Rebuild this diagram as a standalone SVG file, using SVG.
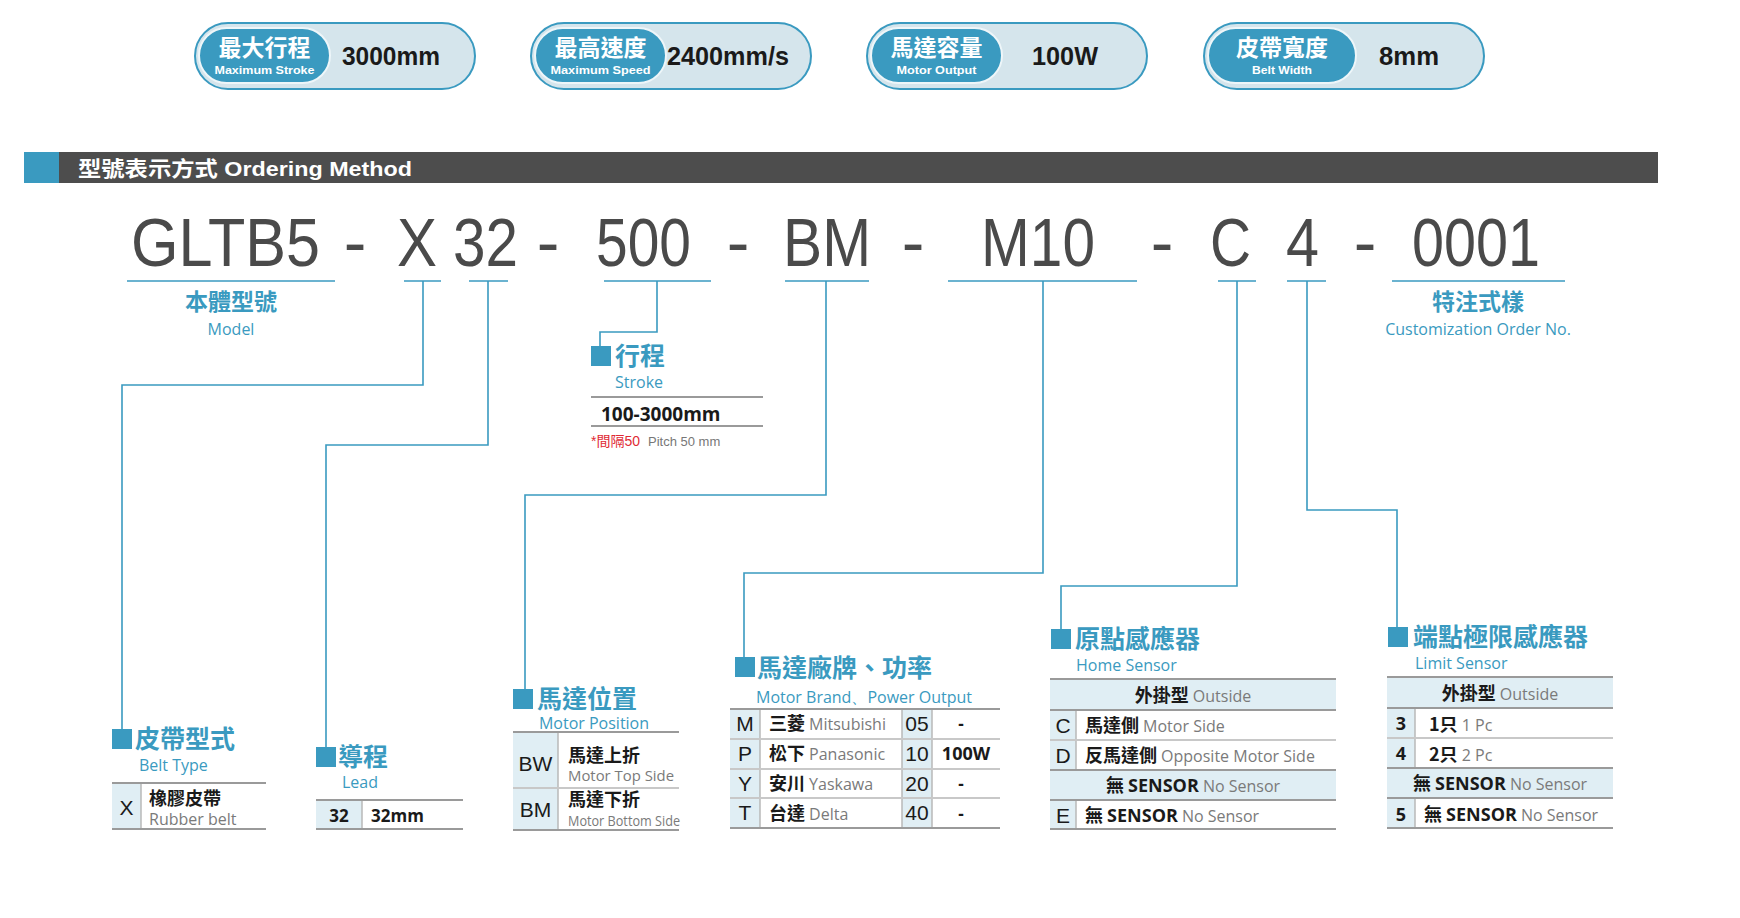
<svg xmlns="http://www.w3.org/2000/svg" width="1740" height="918" viewBox="0 0 1740 918">
<style>
.bg{fill:#ffffff}
.pill{fill:#d5e5ec;stroke:#3a9ac0;stroke-width:2}
.pin{fill:#3a9ac0;stroke:#eef6f9;stroke-width:2}
.pcj{font-family:"Noto Sans CJK TC","Noto Sans CJK SC",sans-serif;font-weight:700;font-size:23px;fill:#fff;text-anchor:middle}
.pen{font-family:"Liberation Sans",Arial,sans-serif;font-weight:700;font-size:11px;fill:#fff;text-anchor:middle}
.pval{font-family:"Liberation Sans",Arial,sans-serif;font-weight:700;font-size:25px;fill:#1a1a1a;text-anchor:middle}
.code{font-family:"Liberation Sans",Arial,sans-serif;font-size:68px;fill:#4a4a4a;text-anchor:middle}
.ul{stroke:#3a9ac0;stroke-width:1.6;fill:none}
.con{stroke:#3a9ac0;stroke-width:1.6;fill:none}
.sq{fill:#3a9ac0}
.ttl{font-family:"Noto Sans CJK TC","Noto Sans CJK SC",sans-serif;font-weight:700;fill:#3a9ac0}
.sub{font-family:"Open Sans","Noto Sans",sans-serif;font-size:16px;fill:#3a9ac0}
.cell{fill:#e0eef4}
.tl{stroke:#9a9a9a;stroke-width:2;fill:none}
.tm{stroke:#c8c8c8;stroke-width:2;fill:none}
.vl{stroke:#b8b8b8;stroke-width:1.5;fill:none}
.let{font-family:"Liberation Sans",Arial,sans-serif;font-size:21px;fill:#1a1a1a;text-anchor:middle}
.cj{font-family:"Noto Sans CJK TC","Noto Sans CJK SC",sans-serif;font-weight:700;font-size:18px;fill:#1a1a1a}
.en{font-family:"Open Sans","Noto Sans",sans-serif;font-weight:400;fill:#7a7a7a}
.bk{font-family:"Open Sans","Noto Sans",sans-serif;font-weight:700;fill:#1a1a1a}
.num{font-family:"Liberation Sans",Arial,sans-serif;font-size:21px;fill:#1a1a1a;text-anchor:middle}
</style>
<rect class="bg" x="0" y="0" width="1740" height="918"/>

<!-- spec pills -->
<g id="pill-stroke">
<rect class="pill" x="195" y="23" width="280" height="66" rx="33"/>
<rect class="pin" x="199" y="28" width="131" height="55" rx="27.5"/>
<text class="pcj" x="264.5" y="56">最大行程</text>
<text class="pen" x="264.5" y="74" textLength="100" lengthAdjust="spacingAndGlyphs">Maximum Stroke</text>
<text class="pval" x="391" y="65" textLength="98" lengthAdjust="spacingAndGlyphs">3000mm</text>
</g>
<g id="pill-speed">
<rect class="pill" x="531" y="23" width="280" height="66" rx="33"/>
<rect class="pin" x="535" y="28" width="131" height="55" rx="27.5"/>
<text class="pcj" x="600.5" y="56">最高速度</text>
<text class="pen" x="600.5" y="74" textLength="100" lengthAdjust="spacingAndGlyphs">Maximum Speed</text>
<text class="pval" x="728" y="65" textLength="122" lengthAdjust="spacingAndGlyphs">2400mm/s</text>
</g>
<g id="pill-output">
<rect class="pill" x="867" y="23" width="280" height="66" rx="33"/>
<rect class="pin" x="871" y="28" width="131" height="55" rx="27.5"/>
<text class="pcj" x="936.5" y="56">馬達容量</text>
<text class="pen" x="936.5" y="74" textLength="80" lengthAdjust="spacingAndGlyphs">Motor Output</text>
<text class="pval" x="1065" y="65" textLength="66" lengthAdjust="spacingAndGlyphs">100W</text>
</g>
<g id="pill-belt">
<rect class="pill" x="1204" y="23" width="280" height="66" rx="33"/>
<rect class="pin" x="1208" y="28" width="148" height="55" rx="27.5"/>
<text class="pcj" x="1282" y="56">皮帶寬度</text>
<text class="pen" x="1282" y="74" textLength="60" lengthAdjust="spacingAndGlyphs">Belt Width</text>
<text class="pval" x="1409" y="65" textLength="60" lengthAdjust="spacingAndGlyphs">8mm</text>
</g>

<!-- header bar -->
<g id="header">
<rect x="24" y="152" width="1634" height="31" fill="#4d4d4d"/>
<rect x="24" y="152" width="35" height="31" fill="#3a9ac0"/>
<text x="78" y="176" font-family="'Liberation Sans','Noto Sans CJK TC',sans-serif" font-weight="700" font-size="21" fill="#ffffff" textLength="334" lengthAdjust="spacingAndGlyphs">型號表示方式 Ordering Method</text>
</g>

<!-- code -->
<g id="code">
<text class="code" x="225.5" y="266" textLength="189" lengthAdjust="spacingAndGlyphs">GLTB5</text>
<text class="code" x="355" y="266">-</text>
<text class="code" x="417" y="266" textLength="40" lengthAdjust="spacingAndGlyphs">X</text>
<text class="code" x="485.5" y="266" textLength="65" lengthAdjust="spacingAndGlyphs">32</text>
<text class="code" x="548" y="266">-</text>
<text class="code" x="643.5" y="266" textLength="95" lengthAdjust="spacingAndGlyphs">500</text>
<text class="code" x="738" y="266">-</text>
<text class="code" x="827" y="266" textLength="88" lengthAdjust="spacingAndGlyphs">BM</text>
<text class="code" x="913" y="266">-</text>
<text class="code" x="1038" y="266" textLength="114" lengthAdjust="spacingAndGlyphs">M10</text>
<text class="code" x="1162" y="266">-</text>
<text class="code" x="1230.5" y="266" textLength="41" lengthAdjust="spacingAndGlyphs">C</text>
<text class="code" x="1302.5" y="266" textLength="33" lengthAdjust="spacingAndGlyphs">4</text>
<text class="code" x="1365" y="266">-</text>
<text class="code" x="1476" y="266" textLength="128" lengthAdjust="spacingAndGlyphs">0001</text>
</g>

<!-- underlines -->
<g id="underlines">
<line class="ul" x1="127" y1="281" x2="335" y2="281"/>
<line class="ul" x1="404" y1="281" x2="441" y2="281"/>
<line class="ul" x1="469" y1="281" x2="508" y2="281"/>
<line class="ul" x1="604" y1="281" x2="711" y2="281"/>
<line class="ul" x1="785" y1="281" x2="869" y2="281"/>
<line class="ul" x1="948" y1="281" x2="1137" y2="281"/>
<line class="ul" x1="1218" y1="281" x2="1256" y2="281"/>
<line class="ul" x1="1287" y1="281" x2="1326" y2="281"/>
<line class="ul" x1="1392" y1="281" x2="1565" y2="281"/>
</g>

<!-- connectors -->
<g id="connectors">
<polyline class="con" points="423,281 423,385 122,385 122,730"/>
<polyline class="con" points="488,281 488,445 326,445 326,748"/>
<polyline class="con" points="657,281 657,332 600,332 600,347"/>
<polyline class="con" points="826,281 826,495 525,495 525,690"/>
<polyline class="con" points="1043,281 1043,573 744,573 744,658"/>
<polyline class="con" points="1237,281 1237,586 1061,586 1061,630"/>
<polyline class="con" points="1307,281 1307,510 1397,510 1397,628"/>
</g>

<!-- Model -->
<g id="node-model">
<text class="ttl" x="231" y="310" text-anchor="middle" font-size="23">本體型號</text>
<text class="sub" x="231" y="335" text-anchor="middle">Model</text>
</g>

<!-- Customization -->
<g id="node-custom">
<text class="ttl" x="1478" y="310" text-anchor="middle" font-size="23">特注式樣</text>
<text class="sub" x="1478" y="335" text-anchor="middle">Customization Order No.</text>
</g>

<!-- Stroke -->
<g id="node-stroke">
<rect class="sq" x="591" y="346" width="20" height="20"/>
<text class="ttl" x="615" y="365" font-size="25">行程</text>
<text class="sub" x="639" y="388" text-anchor="middle">Stroke</text>
<line class="tl" x1="591" y1="397" x2="763" y2="397"/>
<text class="bk" x="601" y="421" font-size="19">100-3000mm</text>
<line class="tl" x1="591" y1="426" x2="763" y2="426"/>
<text x="591" y="446" font-family="'Liberation Sans','Noto Sans CJK TC',sans-serif" font-size="14" fill="#e02a35">*間隔50</text>
<text x="648" y="446" font-family="'Liberation Sans',sans-serif" font-size="13" fill="#777">Pitch 50 mm</text>
</g>

<!-- Belt type -->
<g id="node-belt">
<rect class="sq" x="112" y="729" width="20" height="20"/>
<text class="ttl" x="135" y="748" font-size="25">皮帶型式</text>
<text class="sub" x="139" y="771">Belt Type</text>
<rect class="cell" x="112" y="783" width="29" height="46"/>
<line class="vl" x1="141" y1="783" x2="141" y2="829"/>
<line class="tl" x1="112" y1="783" x2="266" y2="783"/>
<line class="tl" x1="112" y1="829" x2="266" y2="829"/>
<text class="let" x="126.5" y="815" font-size="23">X</text>
<text class="cj" x="149" y="805">橡膠皮帶</text>
<text class="en" x="149" y="825" font-size="16">Rubber belt</text>
</g>

<!-- Lead -->
<g id="node-lead">
<rect class="sq" x="316" y="747" width="20" height="20"/>
<text class="ttl" x="338" y="766" font-size="25">導程</text>
<text class="sub" x="342" y="788">Lead</text>
<rect class="cell" x="316" y="800" width="46" height="29"/>
<line class="vl" x1="362" y1="800" x2="362" y2="829"/>
<line class="tl" x1="316" y1="800" x2="463" y2="800"/>
<line class="tl" x1="316" y1="829" x2="463" y2="829"/>
<text class="bk" x="339" y="822" text-anchor="middle" font-size="17">32</text>
<text class="bk" x="371" y="822" font-size="17">32mm</text>
</g>

<!-- Motor position -->
<g id="node-motorpos">
<rect class="sq" x="513" y="689" width="20" height="20"/>
<text class="ttl" x="537" y="708" font-size="25">馬達位置</text>
<text class="sub" x="594" y="729" text-anchor="middle">Motor Position</text>
<rect class="cell" x="513" y="732" width="45" height="98"/>
<line class="vl" x1="558" y1="732" x2="558" y2="830"/>
<line class="tl" x1="513" y1="732" x2="679" y2="732"/>
<line class="tm" x1="513" y1="788" x2="679" y2="788"/>
<line class="tl" x1="513" y1="830" x2="679" y2="830"/>
<text class="let" x="535.5" y="771">BW</text>
<text class="let" x="535.5" y="817">BM</text>
<text class="cj" x="568" y="762">馬達上折</text>
<text class="en" x="568" y="781" font-size="15" textLength="106" lengthAdjust="spacingAndGlyphs">Motor Top Side</text>
<text class="cj" x="568" y="806">馬達下折</text>
<text class="en" x="568" y="826" font-size="15" textLength="112" lengthAdjust="spacingAndGlyphs">Motor Bottom Side</text>
</g>

<!-- Motor brand -->
<g id="node-brand">
<rect class="sq" x="735" y="657" width="20" height="20"/>
<text class="ttl" x="757" y="677" font-size="25">馬達廠牌、功率</text>
<text class="sub" x="756" y="703">Motor Brand、Power Output</text>
<rect class="cell" x="730" y="709" width="30" height="119"/>
<rect class="cell" x="902" y="709" width="30" height="119"/>
<line class="vl" x1="760" y1="709" x2="760" y2="828"/>
<line class="vl" x1="902" y1="709" x2="902" y2="828"/>
<line class="vl" x1="932" y1="709" x2="932" y2="828"/>
<line class="tl" x1="730" y1="709" x2="1000" y2="709"/>
<line class="tm" x1="730" y1="739" x2="1000" y2="739"/>
<line class="tm" x1="730" y1="769" x2="1000" y2="769"/>
<line class="tm" x1="730" y1="798" x2="1000" y2="798"/>
<line class="tl" x1="730" y1="828" x2="1000" y2="828"/>
<text class="let" x="745" y="731">M</text>
<text class="let" x="745" y="761">P</text>
<text class="let" x="745" y="791">Y</text>
<text class="let" x="745" y="820">T</text>
<text class="cj" x="769" y="730">三菱 <tspan class="en" font-size="16">Mitsubishi</tspan></text>
<text class="cj" x="769" y="760">松下 <tspan class="en" font-size="16">Panasonic</tspan></text>
<text class="cj" x="769" y="790">安川 <tspan class="en" font-size="16">Yaskawa</tspan></text>
<text class="cj" x="769" y="820">台達 <tspan class="en" font-size="16">Delta</tspan></text>
<text class="num" x="917" y="731">05</text>
<text class="num" x="917" y="761">10</text>
<text class="num" x="917" y="791">20</text>
<text class="num" x="917" y="820">40</text>
<text class="bk" x="961" y="730" text-anchor="middle" font-size="17">-</text>
<text class="bk" x="966" y="760" text-anchor="middle" font-size="18">100W</text>
<text class="bk" x="961" y="790" text-anchor="middle" font-size="17">-</text>
<text class="bk" x="961" y="820" text-anchor="middle" font-size="17">-</text>
</g>

<!-- Home sensor -->
<g id="node-home">
<rect class="sq" x="1051" y="629" width="20" height="20"/>
<text class="ttl" x="1075" y="648" font-size="25">原點感應器</text>
<text class="sub" x="1076" y="671">Home Sensor</text>
<rect class="cell" x="1050" y="679" width="286" height="31"/>
<rect class="cell" x="1050" y="710" width="26" height="60"/>
<rect class="cell" x="1050" y="770" width="286" height="30"/>
<rect class="cell" x="1050" y="800" width="26" height="29"/>
<line class="vl" x1="1076" y1="710" x2="1076" y2="770"/>
<line class="vl" x1="1076" y1="800" x2="1076" y2="829"/>
<line class="tl" x1="1050" y1="679" x2="1336" y2="679"/>
<line class="tl" x1="1050" y1="710" x2="1336" y2="710"/>
<line class="tm" x1="1050" y1="740" x2="1336" y2="740"/>
<line class="tl" x1="1050" y1="770" x2="1336" y2="770"/>
<line class="tl" x1="1050" y1="800" x2="1336" y2="800"/>
<line class="tl" x1="1050" y1="829" x2="1336" y2="829"/>
<text class="cj" x="1193" y="702" text-anchor="middle">外掛型 <tspan class="en" font-size="16">Outside</tspan></text>
<text class="let" x="1063" y="733">C</text>
<text class="let" x="1063" y="763">D</text>
<text class="let" x="1063" y="823">E</text>
<text class="cj" x="1085" y="732">馬達側  <tspan class="en" font-size="16">Motor Side</tspan></text>
<text class="cj" x="1085" y="762">反馬達側 <tspan class="en" font-size="16">Opposite Motor Side</tspan></text>
<text class="cj" x="1193" y="792" text-anchor="middle">無 <tspan class="bk">SENSOR</tspan> <tspan class="en" font-size="16">No Sensor</tspan></text>
<text class="cj" x="1085" y="822">無  <tspan class="bk">SENSOR</tspan>  <tspan class="en" font-size="16">No Sensor</tspan></text>
</g>

<!-- Limit sensor -->
<g id="node-limit">
<rect class="sq" x="1388" y="627" width="20" height="20"/>
<text class="ttl" x="1413" y="646" font-size="25">端點極限感應器</text>
<text class="sub" x="1415" y="669">Limit Sensor</text>
<rect class="cell" x="1387" y="677" width="226" height="31"/>
<rect class="cell" x="1387" y="708" width="28" height="60"/>
<rect class="cell" x="1387" y="768" width="226" height="30"/>
<rect class="cell" x="1387" y="798" width="28" height="30"/>
<line class="vl" x1="1415" y1="708" x2="1415" y2="768"/>
<line class="vl" x1="1415" y1="798" x2="1415" y2="828"/>
<line class="tl" x1="1387" y1="677" x2="1613" y2="677"/>
<line class="tl" x1="1387" y1="708" x2="1613" y2="708"/>
<line class="tm" x1="1387" y1="738" x2="1613" y2="738"/>
<line class="tl" x1="1387" y1="768" x2="1613" y2="768"/>
<line class="tl" x1="1387" y1="798" x2="1613" y2="798"/>
<line class="tl" x1="1387" y1="828" x2="1613" y2="828"/>
<text class="cj" x="1500" y="700" text-anchor="middle">外掛型 <tspan class="en" font-size="16">Outside</tspan></text>
<text class="bk" x="1401" y="730" text-anchor="middle" font-size="18">3</text>
<text class="bk" x="1401" y="760" text-anchor="middle" font-size="18">4</text>
<text class="bk" x="1401" y="821" text-anchor="middle" font-size="18">5</text>
<text class="cj" x="1429" y="731">1只  <tspan class="en" font-size="16">1 Pc</tspan></text>
<text class="cj" x="1429" y="761">2只  <tspan class="en" font-size="16">2 Pc</tspan></text>
<text class="cj" x="1500" y="790" text-anchor="middle">無 <tspan class="bk">SENSOR</tspan> <tspan class="en" font-size="16">No Sensor</tspan></text>
<text class="cj" x="1424" y="821">無 <tspan class="bk">SENSOR</tspan> <tspan class="en" font-size="16">No Sensor</tspan></text>
</g>
</svg>
